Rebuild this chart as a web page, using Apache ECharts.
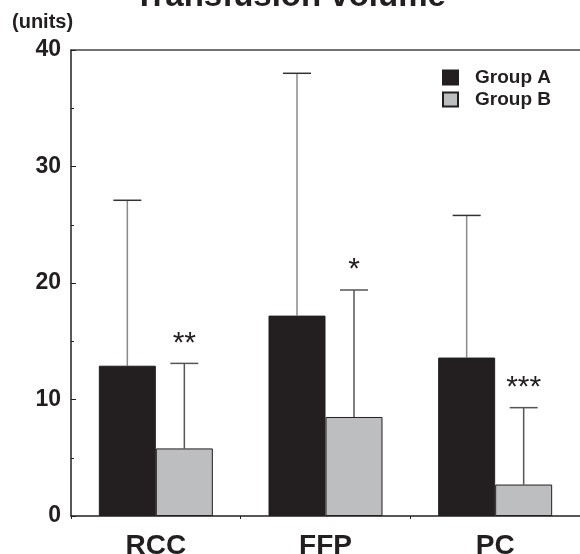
<!DOCTYPE html>
<html>
<head>
<meta charset="utf-8">
<script src="https://cdn.jsdelivr.net/npm/echarts@6/dist/echarts.min.js"></script>
<style>
html,body{margin:0;padding:0;background:#fff;}
#chart{width:580px;height:554px;}
</style>
</head>
<body>
<div id="chart"></div>
<script>
var categories = ['RCC', 'FFP', 'PC'];
var groupA = [12.9, 17.2, 13.6];
var groupAErrTop = [27.1, 38.0, 25.8];
var groupB = [5.8, 8.5, 2.7];
var groupBErrTop = [13.1, 19.4, 9.3];
var significance = ['**', '*', '***'];
var yMin = 0, yMax = 40, yInterval = 10;

var FONT = '"Liberation Sans", Arial, Helvetica, sans-serif';
var INK = '#231f20';
var BAR_W = 57;

function errData(vals, tops) {
  return vals.map(function (v, i) { return [i, v, tops[i]]; });
}

function errorRender(offset, lineColor, capColor, withStar) {
  return function (params, api) {
    var ci = api.value(0);
    var low = api.coord([ci, api.value(1)]);
    var high = api.coord([ci, api.value(2)]);
    var x = low[0] + offset;
    var children = [
      { type: 'line', shape: { x1: x, y1: low[1], x2: x, y2: high[1] },
        style: { stroke: lineColor, lineWidth: 1.5 } },
      { type: 'line', shape: { x1: x - 14, y1: high[1], x2: x + 14, y2: high[1] },
        style: { stroke: capColor, lineWidth: 1.5 } }
    ];
    if (withStar) {
      children.push({ type: 'text', style: {
        x: x, y: high[1] - 20, text: significance[ci], fill: INK,
        font: 'normal 30px ' + FONT, textAlign: 'center', textVerticalAlign: 'middle'
      } });
    }
    return { type: 'group', children: children };
  };
}

var chart = echarts.init(document.getElementById('chart'), null, { renderer: 'canvas' });
chart.setOption({
  animation: false,
  backgroundColor: '#fff',
  title: {
    text: 'Transfusion volume', left: 'center', top: -25,
    textStyle: { fontFamily: FONT, fontSize: 33, fontWeight: 'bold', color: INK }
  },
  graphic: [{
    type: 'text', left: 12, top: 12,
    style: { text: '(units)', font: 'bold 20px ' + FONT, fill: INK }
  }],
  legend: {
    data: ['Group A', 'Group B'], orient: 'vertical', left: 437, top: 63,
    itemWidth: 15, itemHeight: 14, itemGap: 3, icon: 'rect',
    textStyle: { fontFamily: FONT, fontSize: 19, fontWeight: 'bold', color: INK, padding: [0, 0, 0, 12] }
  },
  grid: { left: 71, right: 0, top: 50, bottom: 38, containLabel: false, outerBoundsMode: 'none' },
  xAxis: [{
    type: 'category', data: categories, position: 'bottom',
    axisLine: { lineStyle: { color: INK, width: 1.5 } },
    axisTick: { show: true, length: 3, lineStyle: { color: INK } },
    axisLabel: { fontFamily: FONT, fontSize: 28, fontWeight: 'bold', color: INK, margin: 16 }
  }, {
    type: 'category', data: categories, position: 'top',
    axisLine: { lineStyle: { color: '#444', width: 1.5 } },
    axisTick: { show: false }, axisLabel: { show: false }
  }],
  yAxis: {
    type: 'value', min: yMin, max: yMax, interval: yInterval,
    axisLine: { show: true, lineStyle: { color: INK, width: 1.5 } },
    axisTick: { show: true, inside: true, length: 5, lineStyle: { color: INK } },
    minorTick: { show: true, splitNumber: 2, length: 3, lineStyle: { color: INK } },
    splitLine: { show: false },
    axisLabel: { fontFamily: FONT, fontSize: 23, fontWeight: 'bold', color: INK, margin: 10,
      verticalAlign: 'middle', padding: [7, 0, 0, 0] }
  },
  series: [{
    name: 'Group A', type: 'bar', data: groupA, barWidth: BAR_W, barGap: '0%',
    itemStyle: { color: INK, borderColor: INK, borderWidth: 1 }, z: 2
  }, {
    name: 'Group B', type: 'bar', data: groupB, barWidth: BAR_W, barGap: '0%',
    itemStyle: { color: '#bcbec0', borderColor: INK, borderWidth: 1 }, z: 2
  }, {
    type: 'custom', name: 'errA', data: errData(groupA, groupAErrTop),
    renderItem: errorRender(-BAR_W / 2, '#8a8a8a', '#333', false), z: 1,
    encode: { x: 0, y: [1, 2] }
  }, {
    type: 'custom', name: 'errB', data: errData(groupB, groupBErrTop),
    renderItem: errorRender(BAR_W / 2, '#555', '#555', true), z: 1,
    encode: { x: 0, y: [1, 2] }
  }]
});
</script>
</body>
</html>
